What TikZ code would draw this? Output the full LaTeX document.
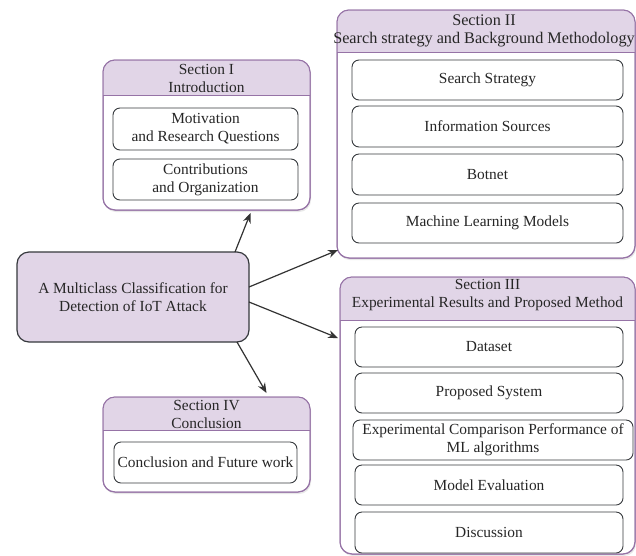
\documentclass[tikz,border=0pt]{standalone}
\usepackage{fontspec}
\setmainfont{Liberation Serif}
\usetikzlibrary{arrows.meta,shadows}
\definecolor{pfill}{HTML}{E1D5E7}
\definecolor{pline}{HTML}{9673A6}
\definecolor{dline}{HTML}{36393D}
\definecolor{aline}{HTML}{333333}
\tikzset{
  container/.style={draw=pline, line width=1pt, fill=white, rounded corners=12pt, inner sep=0pt, outer sep=0pt, anchor=north west,
    drop shadow={opacity=0.18, shadow xshift=1pt, shadow yshift=-2pt}},
  inbox/.style={draw=dline, line width=0.9pt, fill=white, rounded corners=7pt, inner sep=0pt, outer sep=0pt, anchor=north west, align=center, font=\rmfamily\fontsize{15.4}{18}\selectfont, text=black!85},
  mainbox/.style={draw=dline, line width=1.2pt, fill=pfill, rounded corners=12pt, inner sep=0pt, outer sep=0pt, anchor=north west, align=center, font=\rmfamily\fontsize{15.4}{18}\selectfont, text=black!85},
  headtext/.style={align=center, inner sep=0pt, font=\rmfamily\fontsize{15.4}{18}\selectfont, text=black!85},
  arr/.style={draw=aline, line width=1.2pt, -{Stealth[length=10pt,width=8pt]}}
}
\newcommand{\mkheader}[2]{%
  \begin{scope}
    \clip[rounded corners=12pt] (#1.north west) rectangle (#1.south east);
    \fill[pfill] (#1.north west) rectangle ([yshift=-#2pt]#1.north east);
  \end{scope}
  \draw[pline, line width=1pt] ([yshift=-#2pt]#1.north west) -- ([yshift=-#2pt]#1.north east);
  \draw[pline, line width=1pt, rounded corners=12pt] (#1.north west) rectangle (#1.south east);
}
\begin{document}
\begin{tikzpicture}[x=1pt,y=-1pt]
\useasboundingbox (0,0) rectangle (636,555);
\fill[white] (0,0) rectangle (636,555);

% containers
\node[container, minimum width=207pt, minimum height=150pt] (s1) at (103,60) {};
\mkheader{s1}{35}
\node[container, minimum width=298pt, minimum height=248pt] (s2) at (337,10) {};
\mkheader{s2}{42}
\node[container, minimum width=295pt, minimum height=277pt] (s3) at (340,277) {};
\mkheader{s3}{43}
\node[container, minimum width=207pt, minimum height=95pt] (s4) at (103,397) {};
\mkheader{s4}{33}

% header texts
\node[headtext] (h1) at (206.5,78.5) {Section I\\Introduction};
\node[headtext, font=\rmfamily\fontsize{16.2}{18}\selectfont] (h2) at (484,31) {Section II\\Search strategy and Background Methodology};
\node[headtext] (h3) at (487.5,295) {Section III\\Experimental Results and Proposed Method};
\node[headtext] (h4) at (206.5,414) {Section IV\\Conclusion};

% inner boxes
\node[inbox, minimum width=185pt, minimum height=42pt] (b11) at (113,108) {Motivation\\and Research Questions};
\node[inbox, minimum width=185pt, minimum height=41pt] (b12) at (113,159) {Contributions\\and Organization};

\node[inbox, minimum width=271pt, minimum height=40pt] (b21) at (352,60) {Search Strategy};
\node[inbox, minimum width=271pt, minimum height=41pt] (b22) at (352,106) {Information Sources};
\node[inbox, minimum width=271pt, minimum height=41pt] (b23) at (352,154) {Botnet};
\node[inbox, minimum width=271pt, minimum height=40pt] (b24) at (352,203) {Machine Learning Models};

\node[inbox, minimum width=268pt, minimum height=40pt] (b31) at (355,327) {Dataset};
\node[inbox, minimum width=268pt, minimum height=40pt] (b32) at (355,373) {Proposed System};
\node[inbox, minimum width=280pt, minimum height=40pt] (b33) at (353,420) {Experimental Comparison Performance of\\ML algorithms};
\node[inbox, minimum width=268pt, minimum height=40pt] (b34) at (355,465) {Model Evaluation};
\node[inbox, minimum width=268pt, minimum height=41pt] (b35) at (355,512) {Discussion};

\node[inbox, minimum width=183pt, minimum height=41pt] (b41) at (114,442) {Conclusion and Future work};

% main node
\node[mainbox, minimum width=232pt, minimum height=90pt] (main) at (17,252) {A Multiclass Classification for\\Detection of IoT Attack};

% arrows
\draw[arr] ([xshift=-14pt]main.north east) -- ([xshift=44pt,yshift=-3pt]s1.south);
\draw[arr] ([yshift=10pt]main.east) -- ([xshift=1pt,yshift=8pt]s2.south west);
\draw[arr] ([yshift=-5pt]main.east) -- ([xshift=-2pt,yshift=-61pt]s3.north west);
\draw[arr] ([xshift=-12pt]main.south east) -- ([xshift=60pt,yshift=4pt]s4.north);
\end{tikzpicture}
\end{document}
